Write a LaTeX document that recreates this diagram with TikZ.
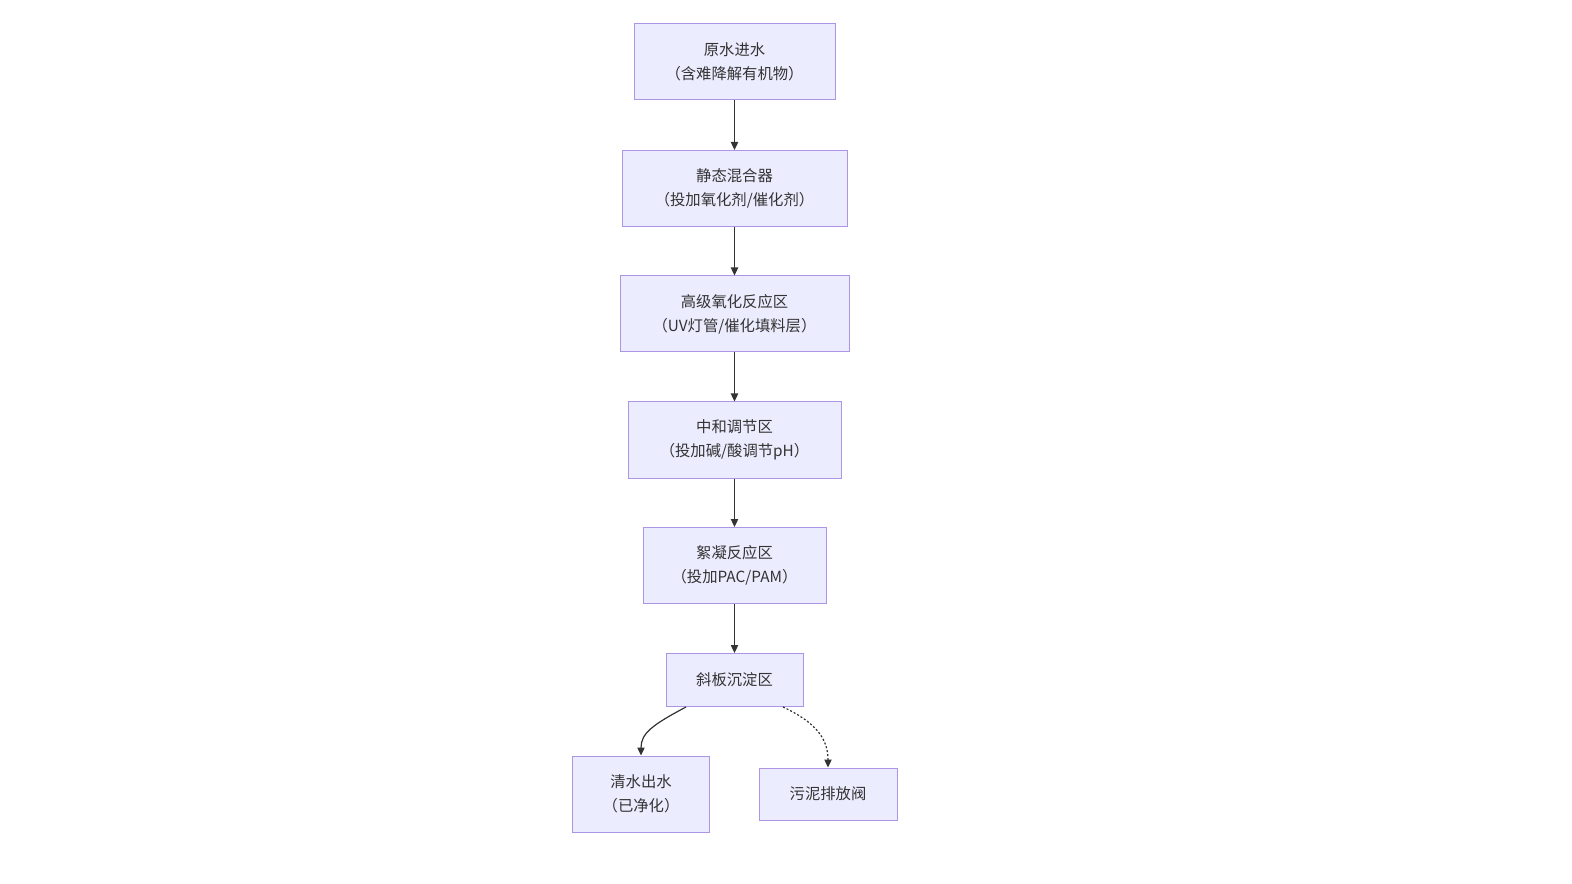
\documentclass[tikz,border=0pt]{standalone}
\usepackage{fontspec}
\setmainfont{Noto Sans CJK SC}
\usetikzlibrary{arrows.meta}
\definecolor{boxfill}{HTML}{ECECFF}
\definecolor{boxline}{HTML}{9370DB}
\definecolor{txt}{HTML}{333333}
\definecolor{edge}{HTML}{333333}
\begin{document}
\begin{tikzpicture}[x=0.75pt,y=-0.75pt,
  stepbox/.style={draw=boxline!75,fill=boxfill,line width=0.75pt,text=txt,align=center,
    inner sep=0pt,font=\fontsize{11.5}{18}\selectfont},
  flow/.style={draw=edge,line width=0.9pt,-{Triangle[length=6pt,width=5.5pt]}},
  dflow/.style={flow,dash pattern=on 1.5pt off 1.5pt}]
\useasboundingbox (0,0) rectangle (1572,884);
\fill[white] (0,0) rectangle (1572,884);
\node[stepbox,minimum width=201*0.75pt,minimum height=76*0.75pt] (n1) at (734.5,62) {原水进水\\（含难降解有机物）};
\node[stepbox,minimum width=225*0.75pt,minimum height=76*0.75pt] (n2) at (734.5,188.5) {静态混合器\\（投加氧化剂/催化剂）};
\node[stepbox,minimum width=229*0.75pt,minimum height=76*0.75pt] (n3) at (734.5,314) {高级氧化反应区\\（UV灯管/催化填料层）};
\node[stepbox,minimum width=213*0.75pt,minimum height=76*0.75pt] (n4) at (734.5,440) {中和调节区\\（投加碱/酸调节pH）};
\node[stepbox,minimum width=183*0.75pt,minimum height=76*0.75pt] (n5) at (734.5,565.5) {絮凝反应区\\（投加PAC/PAM）};
\node[stepbox,minimum width=137*0.75pt,minimum height=53*0.75pt] (n6) at (734.5,680) {斜板沉淀区};
\node[stepbox,minimum width=137*0.75pt,minimum height=76*0.75pt] (n7) at (641,794) {清水出水\\（已净化）};
\node[stepbox,minimum width=138*0.75pt,minimum height=52*0.75pt] (n8) at (828,794) {污泥排放阀};
\draw[flow] (n1) -- (n2);
\draw[flow] (n2) -- (n3);
\draw[flow] (n3) -- (n4);
\draw[flow] (n4) -- (n5);
\draw[flow] (n5) -- (n6);
\draw[flow] ([xshift=-48.5*0.75pt]n6.south) .. controls +(-34,18) and +(0,-22) .. (n7.north);
\draw[dflow] ([xshift=48.5*0.75pt]n6.south) .. controls +(34,16) and +(0,-28) .. (n8.north);
\end{tikzpicture}
\end{document}
